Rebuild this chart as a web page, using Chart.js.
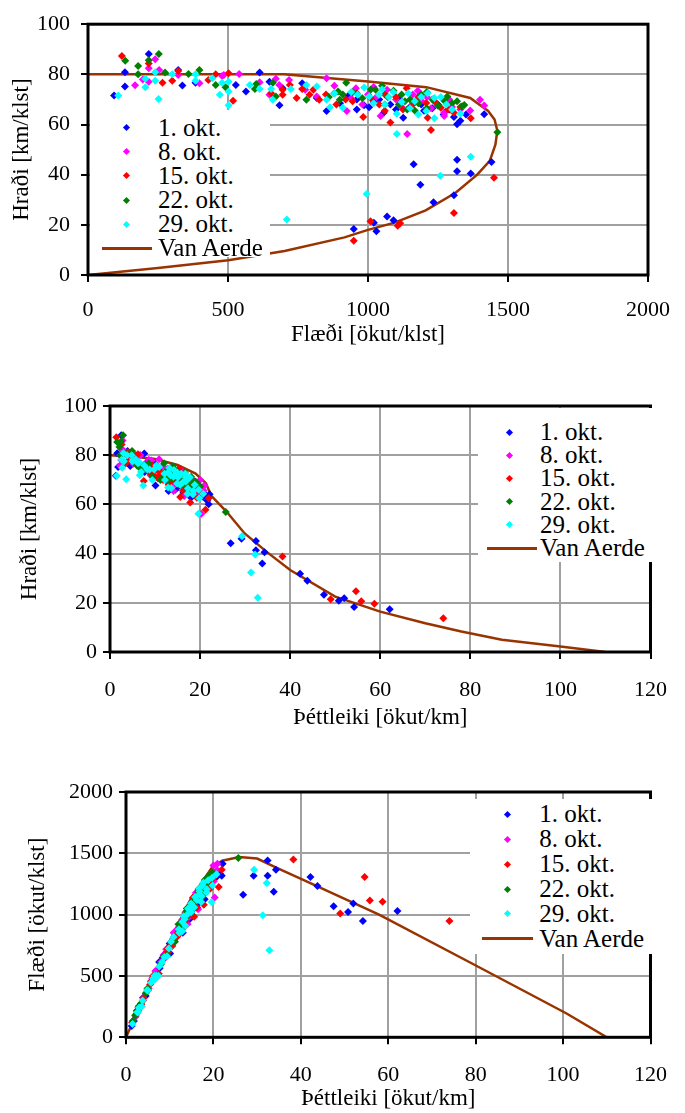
<!DOCTYPE html>
<html>
<head>
<meta charset="utf-8">
<script src="https://cdn.jsdelivr.net/npm/chart.js@4.4.1/dist/chart.umd.min.js"></script>
<style>
  body { margin: 0; background: #fff; width: 685px; height: 1113px; position: relative; overflow: hidden; }
  canvas { position: absolute; left: 0; }
  .legend { position: absolute; background: #fff; font-family: "Liberation Serif", serif; font-size: 25px; color: #000; }
  .row { position: absolute; left: 0; height: 28px; line-height: 28px; white-space: nowrap; }
  .mark { position: absolute; width: 5px; height: 5px; transform: rotate(45deg); }
  .vline { position: absolute; height: 3px; background: #993300; }
</style>
</head>
<body>
<canvas id="c1" width="685" height="360" style="top:0px"></canvas>
<canvas id="c2" width="685" height="360" style="top:380px"></canvas>
<canvas id="c3" width="685" height="353" style="top:760px"></canvas>

<script>
// heiti og litir raða
const seriesNames = ["1. okt.", "8. okt.", "15. okt.", "22. okt.", "29. okt."];
const seriesColors = ["#0000ff", "#ff00ff", "#ff0000", "#008000", "#00ffff"];
const modelName = "Van Aerde";

// mælingar: flæði [ökut/klst], hraði [km/klst], þéttleiki [ökut/km]
const okt1Flow    = [93,132,132,217,322,337,384,528,564,613,648,695,684,765,817,852,880,930,986,1004,1040,1056,1080,1126,1150,1175,1200,1250,1307,1318,1415,
                     900,960,1020,1100,1110,1190,1230,1270,1290,1330,1350,960,
                     1163,1187,1318,1318,1367,1441,1307,1234,1068,1091,1021,949,1030];
const okt1Speed   = [71.6,80.8,75.2,88.1,81.7,75.6,76.7,75.8,73.2,80.7,77.1,74.5,67.7,76.5,70.6,65.4,72.5,71.5,67.7,66.9,70,64.7,68,62.7,67,70,65.5,68,63,60.1,64.1,
                     68.5,70,69,66,70.5,68,66.5,64,66,61.5,64,66,
                     44.2,36,46,41.4,40.5,45.1,31.8,29,23.3,21.8,20.8,18.3,17.4];
const okt1Density = [1.3,1.6,1.8,2.5,3.9,4.5,5.0,7.0,7.7,7.6,8.4,9.3,10.1,10.0,11.6,13.0,12.1,13.0,14.6,15.0,14.9,16.3,15.9,18.0,17.2,16.8,18.3,18.4,20.7,21.9,22.1,
                     13.1,13.7,14.8,16.7,15.7,17.5,18.5,19.8,19.5,21.6,21.1,14.5,
                     26.8,33.8,29.2,32.4,34.3,32.4,42.2,43.8,47.5,52.0,50.8,54.2,62.1];

const okt8Flow    = [168,196,217,217,240,254,322,398,479,485,540,613,648,671,683,718,776,817,852,924,957,1000,1045,1068,1100,1140,1178,1210,1240,1272,1272,1300,1365,1400,1415,
                     880,940,980,1030,1120,1160,1190,1225,1330,1290,1020];
const okt8Speed   = [75.7,78,82.4,77.1,86,81.7,79.7,76.5,79.3,79.7,80.1,76.9,71.9,78.2,75.8,77.8,73.9,71.2,78.4,65.4,74.5,72,63.4,73.9,70,56.2,73.5,71,69,64.7,63.4,67,65.6,69.9,67.6,
                     75.5,70.5,68,71,67,72,69.5,66.5,66,70,75];
const okt8Density = [2.2,2.5,2.6,2.8,2.8,3.1,4.0,5.2,6.0,6.1,6.7,8.0,9.0,8.6,9.0,9.2,10.5,11.5,10.9,14.1,12.8,13.9,16.5,14.5,15.7,20.3,16.0,17.0,18.0,19.7,20.1,19.4,20.8,20.0,20.9,
                     11.7,13.3,14.4,14.5,16.7,16.1,17.1,18.4,20.2,18.4,13.6];

const okt15Flow    = [121,217,266,301,322,430,456,502,518,654,695,695,721,745,765,791,805,826,887,945,983,1010,1080,1100,1138,1160,1208,1213,1225,1260,1307,1367,
                      850,920,960,1040,1060,1125,1180,1240,1285,1330,1060,
                      1450,1307,1009,1115,1106,949];
const okt15Speed   = [87.3,84.3,76.7,77.5,81.3,77.8,80,80.4,69.5,72.5,71.9,73.9,75.8,70.6,74.2,71.9,73.9,69.9,68,69.3,63,70.5,60.8,71,74.5,68,68.6,62.7,57.8,66.7,64.7,62.5,
                      72,70,72.5,68,72,66,71,69,66,67,65.5,
                      38.8,24.7,21.4,20.6,19.6,13.7];
const okt15Density = [1.4,2.6,3.5,3.9,4.0,5.5,5.7,6.2,7.5,9.0,9.7,9.4,9.5,10.6,10.3,11.0,10.9,11.8,13.0,13.6,15.6,14.3,17.8,15.5,15.3,17.1,17.6,19.3,21.2,18.9,20.2,21.9,
                      11.8,13.1,13.2,15.3,14.7,17.0,16.6,18.0,19.5,19.9,16.2,
                      38.3,54.6,49.0,55.8,58.7,74.0];

const okt22Flow    = [133,179,179,217,253,275,359,398,456,491,596,601,660,671,780,893,899,922,945,1027,1050,1070,1091,1110,1132,1150,1167,1190,1230,1272,1283,1318,1336,1344,
                      860,910,980,1010,1060,1120,1180,1210,1250,1300,1140,1210,1462];
const okt22Speed   = [85.4,83.3,80,85.6,88.1,80.7,80.1,81.7,75.8,74.9,74.2,76.2,76.7,71.2,69.9,73.2,69.9,76.7,72.9,73.9,75.5,71,73.5,68,69.3,70,65.6,72,70,69.5,71.2,69.3,67.3,67.8,
                      71,72,70.5,74,68,72,68.5,66.5,67.5,68.5,66,73,56.9];
const okt22Density = [1.6,2.1,2.2,2.5,2.9,3.4,4.5,4.9,6.0,6.6,8.0,7.9,8.6,9.4,11.2,12.2,12.9,12.0,13.0,13.9,13.9,15.1,14.8,16.3,16.3,16.4,17.8,16.5,17.6,18.3,18.0,19.0,19.9,19.8,
                      12.1,12.6,13.9,13.6,15.6,15.6,17.2,18.2,18.5,19.0,17.3,16.6,25.7];

const okt29Flow    = [108,205,205,240,240,252,301,384,384,444,471,479,502,502,502,578,613,654,660,724,780,817,852,864,910,963,986,1004,1039,1074,1103,1103,1143,1167,1208,1213,1237,1237,1260,1330,
                      880,940,1020,1060,1090,1120,1150,1190,1180,1280,1300,1050,
                      1367,1258,995,710];
const okt29Speed   = [71.6,74.9,78.2,80.8,77.5,70.2,80,80,77.5,78.4,71.9,76.7,77.1,73.2,67.7,75.8,74.2,74.2,69.9,74.2,75.8,75.2,69.9,66.9,66.7,71.9,74.8,71.2,71.9,71,64.3,56.2,72.5,69.3,65.4,72.5,70.6,62.5,71,64.3,
                      72.5,73,68.5,68,73,69,66.5,71,64,68,66,74,
                      47.1,39.6,32.3,22.1];
const okt29Density = [1.5,2.7,2.6,3.0,3.1,3.6,3.8,4.8,5.0,5.7,6.6,6.2,6.5,6.9,7.4,7.6,8.3,8.8,9.4,9.8,10.3,10.9,12.2,12.9,13.6,13.4,13.2,14.1,14.5,15.1,17.2,19.6,15.8,16.8,18.5,16.7,17.5,19.8,17.7,20.7,
                      12.1,12.9,14.9,15.6,14.9,16.2,17.3,16.8,18.4,18.8,19.7,14.2,
                      29.3,32.2,31.3,32.8];

// Van Aerde líkan, lesið af hverri mynd
const vaFlow1  = [0,250,501,702,916,1000,1095,1206,1313,1390,1435,1455,1462,1452,1429,1365,1208,1000,700,0];
const vaSpeed1 = [0,2.8,5.9,9.6,15,18,20.9,25.8,32.8,40,45.5,52,57.5,62,65.4,70.6,74.9,77.2,80,80];
const vaDensity2 = [0,5,10,15,19,21.3,22.5,25.9,29.9,35,40,50,60,70,78,87,100,110];
const vaSpeed2   = [80,79.5,78.5,76,72.5,68.6,63.5,57,48.2,40.4,33.3,22.5,16.4,11.7,8.3,5,2.2,0];
const vaDensity3 = [0,10,15,19.6,22,25.9,30,34.5,41.3,57.9,80.8,100.8,110];
const vaFlow3    = [0,785,1140,1381,1440,1470,1457,1381,1271,1000,571,194,0];

// ásar: [min, max, skref]
const flowTicks1 = [0, 2000, 500];
const speedTicks = [0, 100, 20];
const densityTicks = [0, 120, 20];
const flowTicks3 = [0, 2000, 500];

const allFlow = [okt1Flow, okt8Flow, okt15Flow, okt22Flow, okt29Flow];
const allSpeed = [okt1Speed, okt8Speed, okt15Speed, okt22Speed, okt29Speed];
const allDensity = [okt1Density, okt8Density, okt15Density, okt22Density, okt29Density];

const FONT = "Liberation Serif";
const zip = (xs, ys) => xs.map((x, i) => ({ x: x, y: ys[i] }));

function buildDatasets(xs, ys, vaX, vaY) {
    const sets = seriesNames.map((name, i) => ({
        label: name,
        data: zip(xs[i], ys[i]),
        pointStyle: "rectRot",
        pointRadius: 4,
        borderWidth: 0,
        backgroundColor: seriesColors[i],
        order: 5 - i
    }));
    sets.push({
        label: modelName,
        data: zip(vaX, vaY),
        showLine: true,
        pointRadius: 0,
        borderColor: "#993300",
        borderWidth: 2.5,
        fill: false,
        order: 10
    });
    return sets;
}

// rammi utan um teiknisvæðið
const framePlugin = {
    id: "frame",
    afterDatasetsDraw(chart) {
        const a = chart.chartArea, ctx = chart.ctx;
        ctx.save();
        ctx.strokeStyle = "#000";
        ctx.lineWidth = 3;
        ctx.strokeRect(a.left, a.top, a.right - a.left, a.bottom - a.top);
        ctx.restore();
    }
};

function makeChart(id, opt) {
    const H = document.getElementById(id).height;
    const axis = (t, title, tickPad, titlePad) => ({
        type: "linear", min: t[0], max: t[1],
        ticks: { stepSize: t[2], color: "#000", padding: tickPad, autoSkip: false, maxRotation: 0,
                 font: { family: FONT, size: 22 }, callback: v => String(v) },
        grid: { color: "#a0a0a0", lineWidth: 2, tickLength: 7, tickColor: "#000", tickWidth: 2 },
        border: { display: false },
        title: { display: true, text: title, color: "#000", padding: titlePad,
                 font: { family: FONT, size: 23 } }
    });
    const x = axis(opt.xTicks, opt.xTitle, opt.xTickPad, { top: 0, bottom: opt.xTitlePad });
    x.afterFit = s => { s.height = H - opt.area.b; };
    const y = axis(opt.yTicks, opt.yTitle, opt.yTickPad, { top: opt.yTitlePad, bottom: 0 });
    y.afterFit = s => { s.width = opt.area.l; };

    new Chart(document.getElementById(id), {
        type: "scatter",
        data: { datasets: opt.datasets },
        options: {
            responsive: false, animation: false, events: [],
            layout: { padding: { left: 0, top: opt.area.t, right: 685 - opt.area.r, bottom: 0 } },
            plugins: { legend: { display: false }, tooltip: { enabled: false } },
            scales: { x: x, y: y }
        },
        plugins: [framePlugin]
    });
}

// skýringar teiknaðar ofan á teiknisvæðið
function makeLegend(top, box, rows) {
    const lg = document.createElement("div");
    lg.className = "legend";
    Object.assign(lg.style, { left: box.l + "px", top: (top + box.t) + "px", width: box.w + "px", height: box.h + "px" });
    const names = seriesNames.concat([modelName]);
    names.forEach((name, i) => {
        const cy = rows.first + i * rows.step;
        const r = document.createElement("div");
        r.className = "row";
        r.style.top = (cy - 14) + "px";
        r.style.left = rows.text + "px";
        r.textContent = name;
        lg.appendChild(r);
        if (i < seriesNames.length) {
            const m = document.createElement("div");
            m.className = "mark";
            Object.assign(m.style, { left: (rows.mark - 2.5) + "px", top: (cy - 2.5) + "px", background: seriesColors[i] });
            lg.appendChild(m);
        } else {
            const l = document.createElement("div");
            l.className = "vline";
            Object.assign(l.style, { left: rows.line[0] + "px", width: (rows.line[1] - rows.line[0]) + "px", top: (cy - 1.5) + "px" });
            lg.appendChild(l);
        }
    });
    document.body.appendChild(lg);
}

makeChart("c1", {
    area: { l: 88, t: 20.7, r: 660, b: 275 },
    xTicks: flowTicks1, yTicks: speedTicks,
    xTitle: "Flæði [ökut/klst]", yTitle: "Hraði [km/klst]",
    xTickPad: 15, yTickPad: 11, xTitlePad: 11, yTitlePad: 8,
    datasets: buildDatasets(allFlow, allSpeed, vaFlow1, vaSpeed1)
});
makeChart("c2", {
    area: { l: 110, t: 26, r: 664, b: 272 },
    xTicks: densityTicks, yTicks: speedTicks,
    xTitle: "Þéttleiki [ökut/km]", yTitle: "Hraði [km/klst]",
    xTickPad: 18, yTickPad: 6, xTitlePad: 8, yTitlePad: 16,
    datasets: buildDatasets(allDensity, allSpeed, vaDensity2, vaSpeed2)
});
makeChart("c3", {
    area: { l: 126, t: 32, r: 660, b: 277.3 },
    xTicks: densityTicks, yTicks: flowTicks3,
    xTitle: "Þéttleiki [ökut/km]", yTitle: "Flæði [ökut/klst]",
    xTickPad: 18, yTickPad: 6, xTitlePad: 0, yTitlePad: 24,
    datasets: buildDatasets(allDensity, allFlow, vaDensity3, vaFlow3)
});

makeLegend(0, { l: 90, t: 110, w: 180, h: 147 }, { first: 17.7, step: 24.1, mark: 36.7, text: 68, line: [11.5, 62] });
makeLegend(380, { l: 478, t: 28, w: 185, h: 154 }, { first: 24, step: 23.2, mark: 31, text: 62, line: [9, 59] });
makeLegend(760, { l: 470, t: 39, w: 187, h: 155 }, { first: 15.3, step: 24.9, mark: 37.7, text: 69.3, line: [11.7, 63.3] });
</script>
</body>
</html>
